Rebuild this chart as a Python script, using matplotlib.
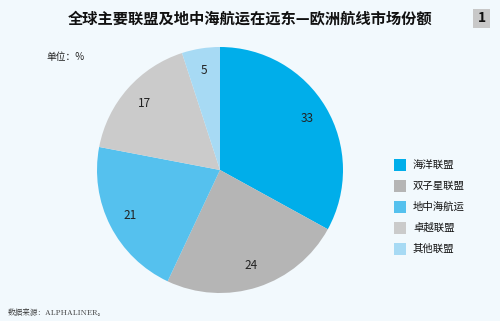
import matplotlib
matplotlib.use("Agg")
import matplotlib.pyplot as plt
from matplotlib.patches import Rectangle

plt.rcParams['font.family'] = ['Noto Sans CJK SC', 'DejaVu Sans']

categories = ["海洋联盟", "双子星联盟", "地中海航运", "卓越联盟", "其他联盟"]
values = [33, 24, 21, 17, 5]
colors = ["#00aeea", "#b5b5b5", "#55c1ee", "#cbcbcb", "#a7daf4"]

bg = "#f2f9fd"
fig = plt.figure(figsize=(5.0, 3.21), dpi=100, facecolor=bg)

W, H = 500, 321
cx, cy, r = 220, 170, 123
ax = fig.add_axes([(cx - r) / W, 1 - (cy + r) / H, 2 * r / W, 2 * r / H])
ax.set_facecolor(bg)
wedges, texts = ax.pie(values, colors=colors, startangle=90, counterclock=False,
                       wedgeprops=dict(edgecolor="none", linewidth=0),
                       labels=[str(v) for v in values], labeldistance=0.82,
                       textprops=dict(fontsize=8.5, color="#222222"))
ax.set_xlim(-1, 1)
ax.set_ylim(-1, 1)
ax.set_aspect("equal")
ax.axis("off")
for t in texts:
    t.set_ha("center")
    t.set_va("center")

fig.text(0.5, 1 - 18 / H, "全球主要联盟及地中海航运在远东—欧洲航线市场份额",
         ha="center", va="center", fontsize=11, fontweight="heavy", color="#111111")
fig.text(46 / W, 1 - 57 / H, "单位：%", ha="left", va="center", fontsize=7, color="#222222")
fig.text(8 / W, 1 - 313 / H, "数据来源：ALPHALINER。", ha="left", va="center", fontsize=5.5,
         color="#333333", family=['Noto Serif CJK SC', 'Noto Sans CJK SC', 'DejaVu Serif'])

fig.patches.append(Rectangle((473 / W, 1 - 28 / H), 17 / W, 19 / H, transform=fig.transFigure,
                             facecolor="#c8c8c8", edgecolor="none"))
fig.text(481.5 / W, 1 - 18.5 / H, "1", ha="center", va="center", fontsize=10,
         fontweight="bold", color="#111111")

for i, (c, lab) in enumerate(zip(colors, categories)):
    y = 165 + i * 21
    fig.patches.append(Rectangle((394 / W, 1 - (y + 6) / H), 12 / W, 12 / H,
                                 transform=fig.transFigure, facecolor=c, edgecolor="none"))
    fig.text(413 / W, 1 - y / H, lab, ha="left", va="center", fontsize=7.5, color="#111111")

fig.savefig("out.png", dpi=100, facecolor=bg)
